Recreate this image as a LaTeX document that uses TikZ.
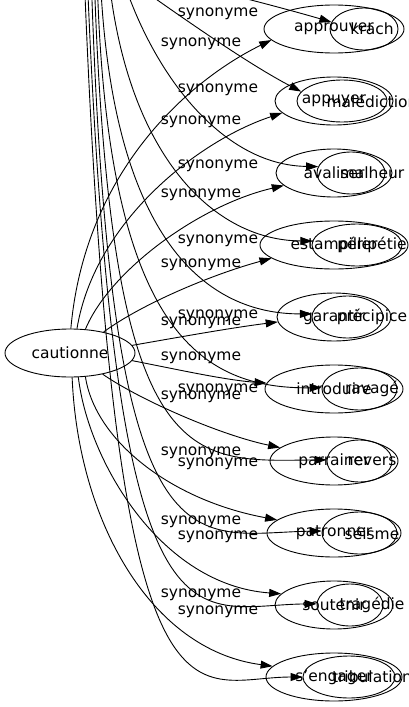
\documentclass[tikz,border=0pt]{standalone}
\usepackage{fontspec}
\setmainfont{DejaVu Sans}
\usetikzlibrary{shapes.geometric,arrows.meta}
\newcommand\lblfont{\fontsize{15.5}{18}\selectfont}
\begin{document}
\begin{tikzpicture}[x=1pt,y=-1pt,
  anode/.style={draw, ellipse, minimum height=48pt, inner sep=0pt, line width=0.9pt, font=\lblfont},
  bnode/.style={draw, ellipse, minimum height=42pt, inner sep=0pt, line width=0.9pt},
  blab/.style={font=\lblfont, inner sep=0pt},
  lab/.style={font=\lblfont, inner sep=0pt},
  edge/.style={line width=0.9pt, -{Triangle[length=12pt,width=8pt]}}]
\useasboundingbox (0,0) rectangle (409,707);
\clip (0,0) rectangle (409,707);
% source
\node[anode, minimum width=130pt] (caut) at (70,353) {cautionne};
% first family
\node[anode, minimum width=140pt] (a1) at (334,29) {approuver};
\node[anode, minimum width=118pt] (a2) at (334,101) {appuyer};
\node[anode, minimum width=116pt] (a3) at (334,173) {avaliser};
\node[anode, minimum width=148pt] (a4) at (334,245) {estampiller};
\node[anode, minimum width=114pt] (a5) at (334,317) {garantir};
\node[anode, minimum width=138pt] (a6) at (334,389) {introduire};
\node[anode, minimum width=128pt] (a7) at (334,461) {parrainer};
\node[anode, minimum width=134pt] (a8) at (334,533) {patronner};
\node[anode, minimum width=118pt] (a9) at (334,605) {soutenir};
\node[anode, minimum width=136pt] (a10) at (334,677) {s'engager};
% second family
\node[bnode, minimum width=68pt, label={[blab,xshift=8pt]center:krach}] (b1) at (364,29) {};
\node[bnode, minimum width=90pt, label={[blab,xshift=30pt]center:malédiction}] (b2) at (342,101) {};
\node[bnode, minimum width=68pt, label={[blab,xshift=21pt]center:malheur}] (b3) at (351,173) {};
\node[bnode, minimum width=90pt, label={[blab,xshift=15pt]center:péripétie}] (b4) at (357,245) {};
\node[bnode, minimum width=71pt, label={[blab,xshift=24.5pt]center:précipice}] (b5) at (347.5,317) {};
\node[bnode, minimum width=75pt, label={[blab,xshift=12.5pt]center:ravagé}] (b6) at (359.5,389) {};
\node[bnode, minimum width=65pt, label={[blab,xshift=12.5pt]center:revers}] (b7) at (359.5,461) {};
\node[bnode, minimum width=75pt, label={[blab,xshift=12.5pt]center:séisme}] (b8) at (359.5,533) {};
\node[bnode, minimum width=66pt, label={[blab,xshift=22pt]center:tragédie}] (b9) at (350,605) {};
\node[bnode, minimum width=92pt, label={[blab,xshift=23pt]center:tribulation}] (b10) at (349,677) {};
% edges of first family
\draw[edge] (caut.88) .. controls (85,170) and (190,80) .. (a1.190);
\draw[edge] (caut.74) .. controls (95,220) and (200,140) .. (a2.193);
\draw[edge] (caut.57) .. controls (110,270) and (200,205) .. (a3.194);
\draw[edge] (caut.32) .. controls (140,305) and (210,275) .. (a4.192);
\draw[edge] (caut.7) .. controls (180,337) and (230,328) .. (a5.185);
\draw[edge] (caut.-7) .. controls (180,370) and (225,380) .. (a6.175);
\draw[edge] (caut.-33) .. controls (140,400) and (220,435) .. (a7.166);
\draw[edge] (caut.-57) .. controls (95,440) and (170,500) .. (a8.167);
\draw[edge] (caut.-71) .. controls (88,460) and (160,585) .. (a9.168);
\draw[edge] (caut.-85) .. controls (78,520) and (150,650) .. (a10.170);
% edges of second family (source above the frame)
\coordinate (s1) at (150,-25);
\coordinate (s2) at (115,-30);
\coordinate (s3) at (120,-30);
\coordinate (s4) at (108,-30);
\coordinate (s5) at (100,-30);
\coordinate (s6) at (97,-30);
\coordinate (s7) at (94,-30);
\coordinate (s8) at (91,-30);
\coordinate (s9) at (87,-30);
\coordinate (s10) at (84,-30);
\draw[edge] (s1) .. controls (230,-6) and (290,10) .. (b1.168);
\draw[edge] (s2) .. controls (185,20) and (250,65) .. (b2.167);
\draw[edge] (s3) .. controls (150,70) and (220,165) .. (b3.169);
\draw[edge] (s4) .. controls (125,150) and (210,240) .. (b4.175);
\draw[edge] (s5) .. controls (110,230) and (200,314) .. (b5.175);
\draw[edge] (s6) .. controls (105,330) and (200,389) .. (b6.178);
\draw[edge] (s7) .. controls (110,480) and (190,461) .. (b7.178);
\draw[edge] (s8) .. controls (110,590) and (190,533) .. (b8.177);
\draw[edge] (s9) .. controls (115,680) and (190,605) .. (b9.178);
\draw[edge] (s10) .. controls (115,770) and (190,677) .. (b10.180);
% labels
\node[lab] (la1) at (201,44) {synonyme};
\node[lab] (la2) at (201,122) {synonyme};
\node[lab] (la3) at (201,195) {synonyme};
\node[lab] (la4) at (201,265) {synonyme};
\node[lab] (la5) at (201,323) {synonyme};
\node[lab] (la6) at (201,358) {synonyme};
\node[lab] (la7) at (201,397) {synonyme};
\node[lab] (la8) at (201,453) {synonyme};
\node[lab] (la9) at (201,522) {synonyme};
\node[lab] (la10) at (201,595) {synonyme};
\node[lab] (lb2) at (218,14) {synonyme};
\node[lab] (lb3) at (218,90) {synonyme};
\node[lab] (lb4) at (218,166) {synonyme};
\node[lab] (lb5) at (218,241) {synonyme};
\node[lab] (lb6) at (218,316) {synonyme};
\node[lab] (lb7) at (218,390) {synonyme};
\node[lab] (lb8) at (218,464) {synonyme};
\node[lab] (lb9) at (218,537) {synonyme};
\node[lab] (lb10) at (218,612) {synonyme};
\end{tikzpicture}
\end{document}
